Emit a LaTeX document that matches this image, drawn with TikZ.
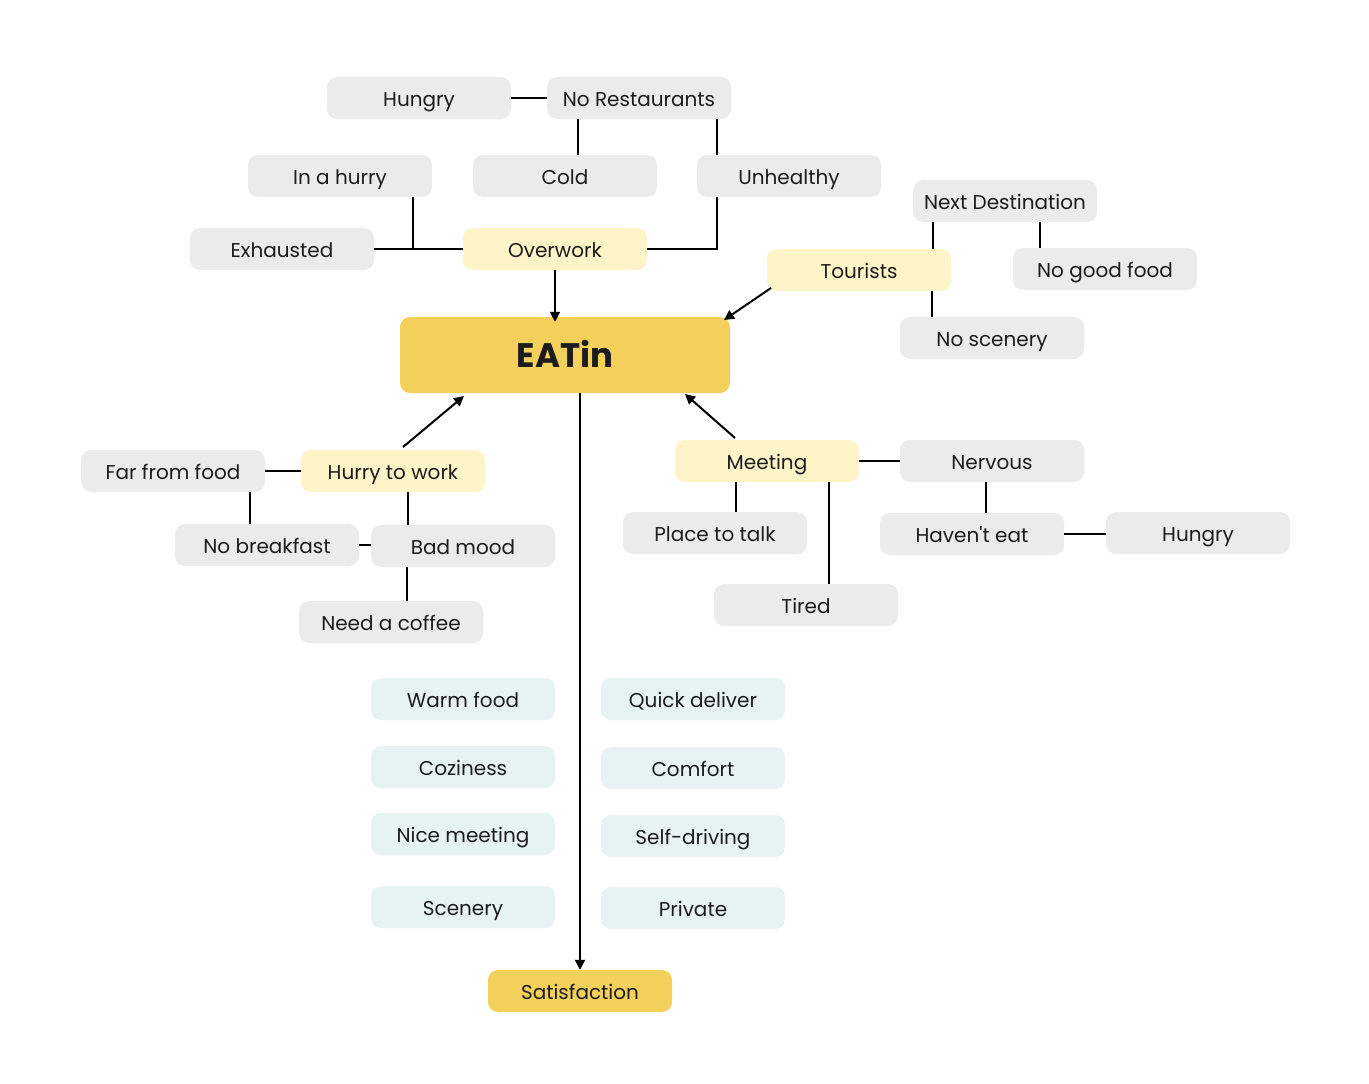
\documentclass[tikz,border=0pt]{standalone}
\usepackage{fontspec}
\setmainfont{Poppins}
\usetikzlibrary{calc,arrows.meta}
\definecolor{boxgrey}{HTML}{EBEBEB}
\definecolor{lightyel}{HTML}{FFF3C8}
\definecolor{darkyel}{HTML}{F2D059}
\definecolor{lightblue}{HTML}{E7F2F2}
\definecolor{txt}{HTML}{1C1C1C}
\tikzset{
  base/.style={rounded corners=10pt, minimum width=184pt, minimum height=42pt, inner sep=0pt, text=txt, font=\fontsize{20}{24}\selectfont, text height=17.5pt, text depth=1.5pt},
  greybox/.style={base, fill=boxgrey},
  yelbox/.style={base, fill=lightyel},
  bluebox/.style={base, fill=lightblue},
  mainbox/.style={base, fill=darkyel},
  link/.style={line width=2pt, draw=black},
  arr/.style={link, -{Triangle[length=10pt,width=10pt]}}
}
\begin{document}
\begin{tikzpicture}[x=1pt,y=-1pt]
\useasboundingbox[fill=white] (0,0) rectangle (1369,1084);
% top cluster
\node[greybox] (hungry1) at (419,98) {Hungry};
\node[greybox] (norest) at (639,98) {No Restaurants};
\node[greybox] (hurry) at (340,176) {In a hurry};
\node[greybox] (cold) at (565,176) {Cold};
\node[greybox] (unhealthy) at (789,176) {Unhealthy};
\node[greybox] (exhausted) at (282,249) {Exhausted};
\node[yelbox] (overwork) at (555,249) {Overwork};
% tourists cluster
\node[greybox] (nextdest) at (1005,201) {Next Destination};
\node[yelbox] (tourists) at (859,270) {Tourists};
\node[greybox] (nogood) at (1105,269) {No good food};
\node[greybox] (noscenery) at (992,338) {No scenery};
% main
\node[mainbox, minimum width=330pt, minimum height=76pt, font=\fontsize{34}{38}\selectfont\bfseries, text height=25pt, text depth=0pt] (eatin) at (565,355) {EATin};
% left cluster
\node[greybox] (farfood) at (173,471) {Far from food};
\node[yelbox] (hurrywork) at (393,471) {Hurry to work};
\node[greybox] (nobreak) at (267,545) {No breakfast};
\node[greybox] (badmood) at (463,546) {Bad mood};
\node[greybox] (coffee) at (391,622) {Need a coffee};
% right cluster
\node[yelbox] (meeting) at (767,461) {Meeting};
\node[greybox] (nervous) at (992,461) {Nervous};
\node[greybox] (place) at (715,533) {Place to talk};
\node[greybox] (haventeat) at (972,534) {Haven\textquotesingle t eat};
\node[greybox] (hungry2) at (1198,533) {Hungry};
\node[greybox] (tired) at (806,605) {Tired};
% benefits
\node[bluebox] (warm) at (463,699) {Warm food};
\node[bluebox] (quick) at (693,699) {Quick deliver};
\node[bluebox] (cozy) at (463,767) {Coziness};
\node[bluebox] (comfort) at (693,768) {Comfort};
\node[bluebox] (nice) at (463,834) {Nice meeting};
\node[bluebox] (selfdrive) at (693,836) {Self-driving};
\node[bluebox] (scenery) at (463,907) {Scenery};
\node[bluebox] (private) at (693,908) {Private};
\node[mainbox] (satisf) at (580,991) {Satisfaction};
% helper coordinates
\coordinate (xcold) at (578,0);
\coordinate (xunh) at (717,0);
\coordinate (xhurry) at (413,0);
\coordinate (xnd1) at (933,0);
\coordinate (xnd2) at (1040,0);
\coordinate (xtour) at (932,0);
\coordinate (xfar) at (250,0);
\coordinate (xhw) at (408,0);
\coordinate (xbm) at (407,0);
\coordinate (xmeet1) at (736,0);
\coordinate (xmeet2) at (829,0);
\coordinate (xnerv) at (986,0);
\coordinate (xmain) at (580,0);
\coordinate (tstart) at (771,288);
\coordinate (tend) at (724,320);
\coordinate (hwstart) at (403,447);
\coordinate (hwend) at (464,396);
\coordinate (mstart) at (735,438);
\coordinate (mend) at (685,394);
% connectors top
\draw[link] (hungry1.east) -- (norest.west);
\draw[link] (norest.south -| xcold) -- (cold.north -| xcold);
\draw[link] (norest.south -| xunh) -- (unhealthy.north -| xunh);
\draw[link] (unhealthy.south -| xunh) -- (overwork.east -| xunh) -- (overwork.east);
\draw[link] (exhausted.east) -- (overwork.west);
\draw[link] (hurry.south -| xhurry) -- (exhausted.east -| xhurry);
\draw[arr] (overwork.south) -- ([yshift=-5pt]eatin.north -| overwork.south);
% tourists
\draw[link] (nextdest.south -| xnd1) -- (tourists.north -| xnd1);
\draw[link] (nextdest.south -| xnd2) -- (nogood.north -| xnd2);
\draw[link] (tourists.south -| xtour) -- (noscenery.north -| xtour);
\draw[arr] (tstart) -- (tend);
% left
\draw[arr] (hwstart) -- (hwend);
\draw[link] (farfood.east) -- (hurrywork.west);
\draw[link] (farfood.south -| xfar) -- (nobreak.north -| xfar);
\draw[link] (hurrywork.south -| xhw) -- (badmood.north -| xhw);
\draw[link] (nobreak.east) -- (nobreak.east -| badmood.west);
\draw[link] (badmood.south -| xbm) -- (coffee.north -| xbm);
% right
\draw[arr] (mstart) -- (mend);
\draw[link] (meeting.east) -- (nervous.west);
\draw[link] (meeting.south -| xmeet1) -- (place.north -| xmeet1);
\draw[link] (meeting.south -| xmeet2) -- (tired.north -| xmeet2);
\draw[link] (nervous.south -| xnerv) -- (haventeat.north -| xnerv);
\draw[link] (haventeat.east) -- (haventeat.east -| hungry2.west);
% main line
\draw[arr] (eatin.south -| xmain) -- (satisf.north);
\end{tikzpicture}
\end{document}
